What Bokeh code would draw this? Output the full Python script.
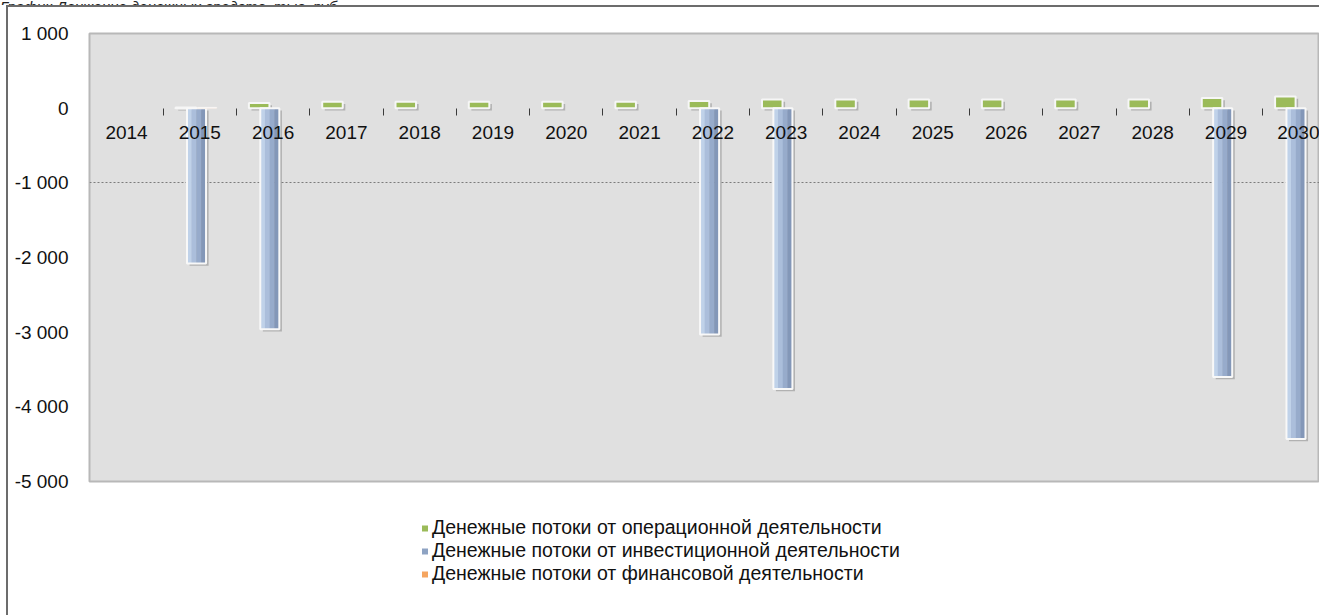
from bokeh.plotting import figure
from bokeh.layouts import column
from bokeh.models import (ColumnDataSource, FixedTicker, Legend, LegendItem, Div)
from bokeh.transform import dodge
from bokeh.embed import file_html
from bokeh.resources import INLINE

# ---------------- data ----------------
chart_title = "График Движение денежных средств, тыс. руб."
years = ["2014", "2015", "2016", "2017", "2018", "2019", "2020", "2021", "2022",
         "2023", "2024", "2025", "2026", "2027", "2028", "2029", "2030"]
operating = [0, 10, 70, 85, 85, 85, 85, 85, 95, 115, 115, 115, 115, 115, 115, 135, 155]
investing = [0, -2080, -2960, 0, 0, 0, 0, 0, -3030, -3760, 0, 0, 0, 0, 0, -3600, -4430]
financing = [0, 10, 0, 0, 0, 0, 0, 0, 0, 0, 0, 0, 0, 0, 0, 0, 0]
series_names = ["Денежные потоки от операционной деятельности",
                "Денежные потоки от инвестиционной деятельности",
                "Денежные потоки от финансовой деятельности"]
y_ticks = [1000, 0, -1000, -2000, -3000, -4000, -5000]
y_tick_labels = ["1 000", "0", "-1 000", "-2 000", "-3 000", "-4 000", "-5 000"]

# ---------------- sources ----------------
idx = list(range(len(years)))
op_src = ColumnDataSource(dict(x=[i for i in idx if operating[i] != 0],
                               v=[v for v in operating if v != 0]))
inv_src = ColumnDataSource(dict(x=[i for i in idx if investing[i] != 0],
                                v=[v for v in investing if v != 0]))
fin_src = ColumnDataSource(dict(x=[i for i in idx if financing[i] != 0],
                                v=[v for v in financing if v != 0]))

FONT = "Liberation Sans"
W = 1311

p = figure(width=W, height=494, x_range=(-0.505, 16.276), y_range=(-5000, 1000),
           output_backend="svg", toolbar_location=None,
           min_border_left=81, min_border_right=0, min_border_top=26,
           min_border_bottom=20)
p.background_fill_color = "#e0e0e0"
p.border_fill_color = "white"
p.outline_line_color = "#b8b8b8"
p.outline_line_width = 2

# grid
p.xgrid.visible = False
p.ygrid.ticker = FixedTicker(ticks=[-1000])
p.ygrid.grid_line_color = "#7c7c7c"
p.ygrid.grid_line_dash = "2 2"

# y axis
yax = p.yaxis[0]
yax.ticker = FixedTicker(ticks=y_ticks)
yax.major_label_overrides = {t: l for t, l in zip(y_ticks, y_tick_labels)}
yax.axis_line_color = None
yax.major_tick_line_color = None
yax.major_tick_out = 0
yax.major_tick_in = 0
yax.minor_tick_line_color = None
yax.major_label_standoff = 21
yax.major_label_text_font = FONT
yax.major_label_text_font_size = "19px"
yax.major_label_text_color = "#111111"

# x axis (category labels placed at the zero line)
xax = p.xaxis[0]
xax.fixed_location = 0
xax.ticker = FixedTicker(ticks=idx, minor_ticks=[i + 0.5 for i in idx])
xax.major_label_overrides = {i: y for i, y in zip(idx, years)}
xax.axis_line_color = None
xax.major_tick_line_color = None
xax.major_tick_out = 0
xax.major_tick_in = 0
xax.minor_tick_in = 0
xax.minor_tick_out = 7
xax.minor_tick_line_color = "#3a3a3a"
xax.minor_tick_line_width = 1
xax.major_label_standoff = 11
xax.major_label_text_font = FONT
xax.major_label_text_font_size = "19px"
xax.major_label_text_color = "#111111"

# ---------------- bars ----------------
GO, GW = -0.19, 0.28     # operating offset / width
BO, BW = -0.045, 0.26    # investing offset / width
FO, FW = 0.10, 0.26      # financing offset / width

# shadows
p.vbar(x=dodge("x", GO + 0.035, range=None), width=GW, top=dodge("v", -30), bottom=-30,
       source=op_src, fill_color="#8a8a8a", fill_alpha=0.55, line_color=None)
p.vbar(x=dodge("x", BO + 0.035, range=None), width=BW, top=-30, bottom=dodge("v", -30),
       source=inv_src, fill_color="#8a8a8a", fill_alpha=0.55, line_color=None)

# operating (green)
p.vbar(x=dodge("x", GO, range=None), width=GW, top="v", bottom=0, source=op_src,
       fill_color="#9bbb59", line_color="#f6f6f6", line_width=2)

# investing (blue with a left-to-right gradient)
strip_colors = ["#c0d2e9", "#abbedb", "#97abcb", "#8397b8"]
n = len(strip_colors)
for k, c in enumerate(strip_colors):
    off = BO + (k - (n - 1) / 2) * BW / n
    p.vbar(x=dodge("x", off, range=None), width=BW / n + 0.004, top=0, bottom="v",
           source=inv_src, fill_color=c, line_color=None)
p.vbar(x=dodge("x", BO, range=None), width=BW, top=0, bottom="v", source=inv_src,
       fill_color=None, line_color="#f8f8f8", line_width=2)

# financing (orange)
p.vbar(x=dodge("x", FO, range=None), width=FW, top="v", bottom=0, source=fin_src,
       fill_color="#f6b07c", line_color="#f8f8f8", line_width=1)

# ---------------- legend (separate strip below the chart) ----------------
lg = figure(width=W, height=114, x_range=(0, 1), y_range=(0, 1),
            x_axis_type=None, y_axis_type=None, output_backend="svg",
            toolbar_location=None, min_border=0)
lg.outline_line_color = None
lg.background_fill_color = "white"
lg.border_fill_color = "white"
lg.xgrid.visible = False
lg.ygrid.visible = False
legend_colors = ["#9bbb59", "#8ea3c3", "#f5a560"]
dummy = []
for c in legend_colors:
    # one point outside the visible range, only so the legend has a swatch
    dummy.append(lg.scatter(x=[5], y=[5], marker="square", size=6,
                            fill_color=c, line_color=None))
legend = Legend(items=[LegendItem(label=nm, renderers=[r]) for nm, r in zip(series_names, dummy)],
                location=(328, 30), orientation="vertical",
                glyph_width=15, glyph_height=22, label_standoff=0,
                label_height=22, spacing=0, padding=0, margin=0,
                background_fill_alpha=0, border_line_color=None,
                label_text_font=FONT, label_text_font_size="19.5px",
                label_text_color="#111111")
lg.add_layout(legend)

# ---------------- clipped title above the framed chart ----------------
title_div = Div(
    text=('<div style="margin-top:-10px;font-family:\'Liberation Sans\';font-style:italic;'
          'font-size:15px;line-height:17px;color:#222;white-space:nowrap">'
          + chart_title + '</div>'),
    width=1319, height=5, margin=(0, 0, 0, 0), styles={"overflow": "hidden"})

framed = column(p, lg, spacing=0, margin=(0, 0, 0, 6),
                styles={"border-left": "2px solid #6c6c6c", "border-top": "2px solid #6c6c6c"})
layout = column(title_div, framed, spacing=0)
open("out.html", "w").write(file_html(layout, INLINE))
